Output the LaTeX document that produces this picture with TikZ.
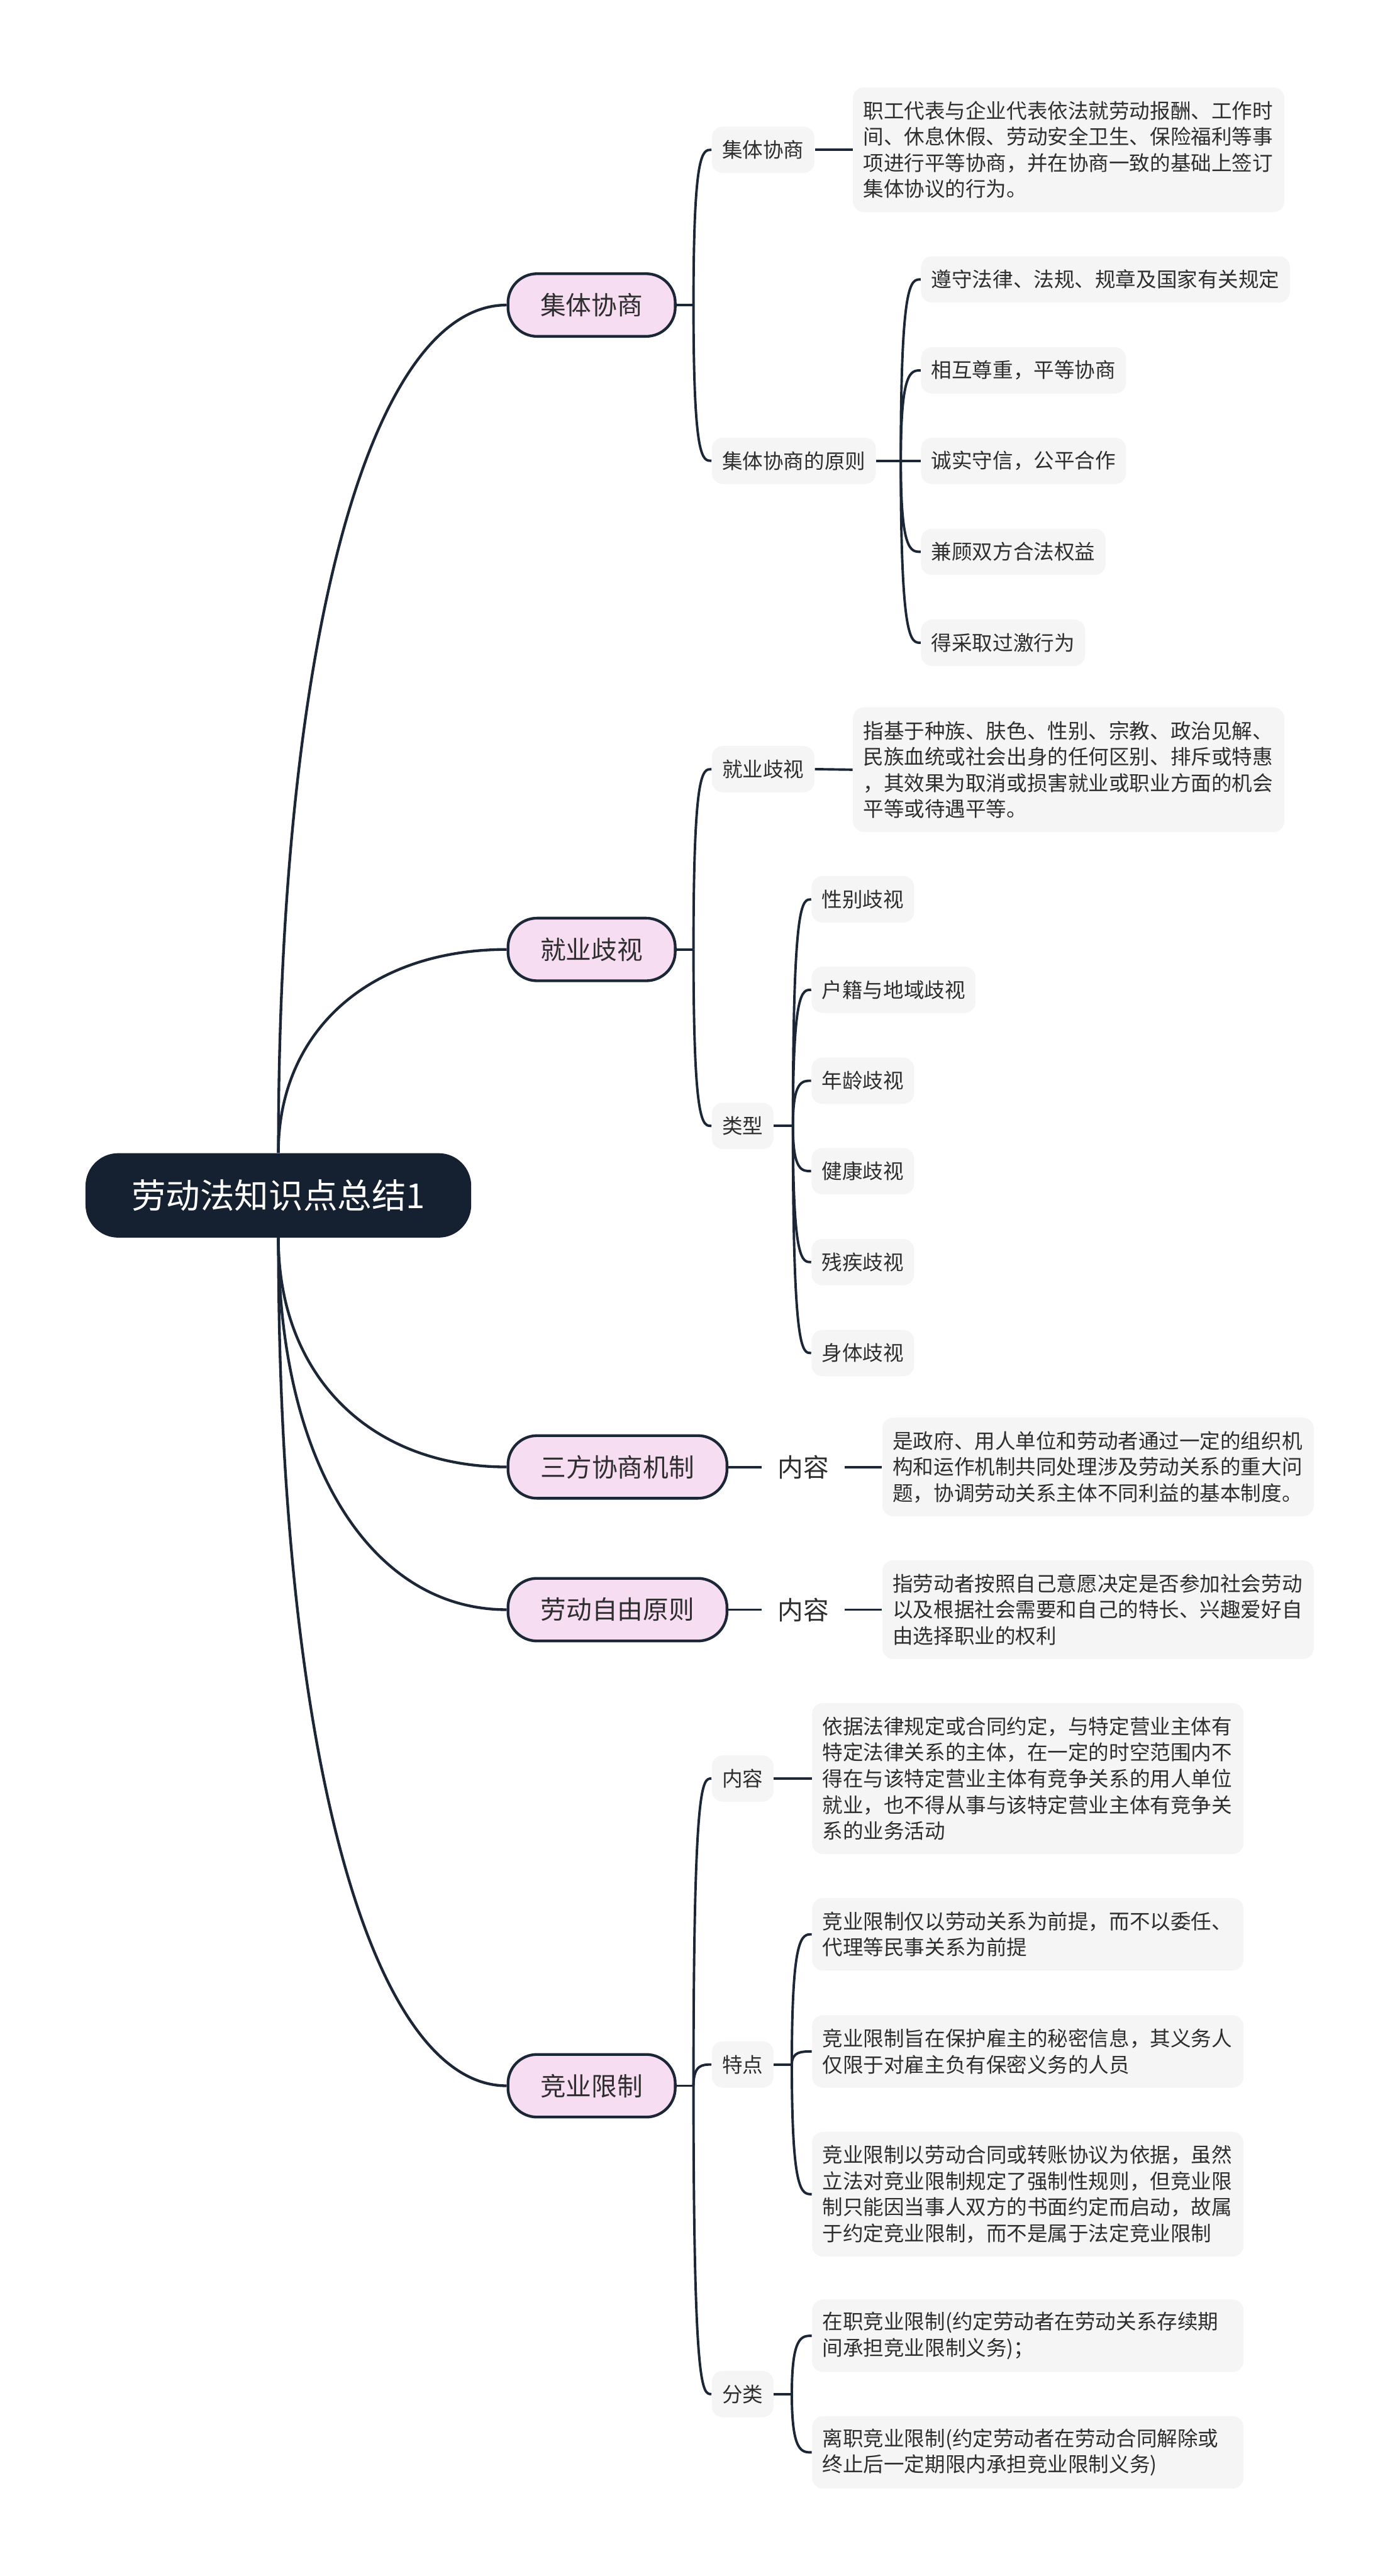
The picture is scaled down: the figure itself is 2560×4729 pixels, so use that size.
\documentclass[tikz,border=0pt]{standalone}
\usepackage{fontspec}
\setmainfont{Noto Sans CJK SC}
\usetikzlibrary{calc}
\definecolor{rootc}{HTML}{152030}
\definecolor{linec}{HTML}{1B2636}
\definecolor{pinkc}{HTML}{F7DDF1}
\definecolor{grayc}{HTML}{F5F5F5}
\definecolor{txtc}{HTML}{2E2E2E}
\newcommand\branchto[2]{%
  \coordinate (bc) at (#1 |- #2.west);
  \draw[conn] (#1) .. controls (bc) and ($(bc)!0.5!(#2.west)$) .. (#2.west);}
\newcommand\rootto[2]{%
  \coordinate (rc) at (#1 |- #2.west);
  \draw[rootconn] (#1) .. controls ($(#1)!0.6!(rc)$) and ($(#2.west)!0.6!(rc)$) .. (#2.west);}
\begin{document}
\begin{tikzpicture}[x=0.3pt,y=-0.3pt,
  rootbox/.style={fill=rootc, text=white, rounded corners=18pt, minimum width=212.4pt, minimum height=46.5pt, font=\fontsize{18.9}{22}\selectfont, inner sep=0pt},
  topicbox/.style={draw=linec, line width=1.5pt, fill=pinkc, text=txtc, rounded corners=16pt, minimum height=34.5pt, font=\fontsize{14.1}{17}\selectfont, inner sep=0pt, anchor=west},
  subbox/.style={fill=grayc, text=txtc, rounded corners=6pt, minimum height=25.5pt, inner xsep=5.7pt, inner ysep=0pt, font=\fontsize{11.28}{14.4}\selectfont, anchor=west},
  para/.style={subbox, text width=226.2pt, align=left},
  lab/.style={text=txtc, font=\fontsize{14.1}{17}\selectfont, inner xsep=8.55pt, inner ysep=0pt},
  conn/.style={draw=linec, line width=1.35pt},
  rootconn/.style={draw=linec, line width=1.5pt},
]
\useasboundingbox (0,0) rectangle (2560,4729);

% root
\node[rootbox] (root) at (511,2194.5) {劳动法知识点总结1};

% level 1
\node[topicbox, minimum width=92.1pt] (k1) at (930,560) {集体协商};
\node[topicbox, minimum width=92.1pt] (k2) at (930,1743) {就业歧视};
\node[topicbox, minimum width=120.6pt] (k3) at (930,2693) {三方协商机制};
\node[topicbox, minimum width=120.6pt] (k4) at (930,2955) {劳动自由原则};
\node[topicbox, minimum width=92.1pt] (k5) at (930,3829) {竞业限制};

% level 2
\node[subbox] (a1) at (1306,275) {集体协商};
\node[subbox] (a2) at (1306,846) {集体协商的原则};
\node[subbox] (b1) at (1306,1412) {就业歧视};
\node[subbox] (b2) at (1306,2067) {类型};
\node[lab] (c1) at (1474.5,2693) {内容};
\node[lab] (d1) at (1474.5,2955) {内容};
\node[subbox] (e1) at (1306,3265) {内容};
\node[subbox] (e2) at (1306,3790) {特点};
\node[subbox] (e3) at (1306,4395) {分类};

% level 3
\node[para, minimum height=68.7pt] (a1t) at (1565,275) {职工代表与企业代表依法就劳动报酬、工作时\\间、休息休假、劳动安全卫生、保险福利等事\\项进行平等协商，并在协商一致的基础上签订\\集体协议的行为。};
\node[subbox] (a2c1) at (1690,513) {遵守法律、法规、规章及国家有关规定};
\node[subbox] (a2c2) at (1690,680) {相互尊重，平等协商};
\node[subbox] (a2c3) at (1690,846) {诚实守信，公平合作};
\node[subbox] (a2c4) at (1690,1013) {兼顾双方合法权益};
\node[subbox] (a2c5) at (1690,1180) {得采取过激行为};

\node[para, minimum height=68.7pt] (b1t) at (1565,1413) {指基于种族、肤色、性别、宗教、政治见解、\\民族血统或社会出身的任何区别、排斥或特惠\\，其效果为取消或损害就业或职业方面的机会\\平等或待遇平等。};
\node[subbox] (b2c1) at (1489,1651) {性别歧视};
\node[subbox] (b2c2) at (1489,1817) {户籍与地域歧视};
\node[subbox] (b2c3) at (1489,1984) {年龄歧视};
\node[subbox] (b2c4) at (1489,2150) {健康歧视};
\node[subbox] (b2c5) at (1489,2317) {残疾歧视};
\node[subbox] (b2c6) at (1489,2484) {身体歧视};

\node[para, minimum height=54.3pt] (c1t) at (1619,2693) {是政府、用人单位和劳动者通过一定的组织机\\构和运作机制共同处理涉及劳动关系的重大问\\题，协调劳动关系主体不同利益的基本制度。};
\node[para, minimum height=54.3pt] (d1t) at (1619,2955) {指劳动者按照自己意愿决定是否参加社会劳动\\以及根据社会需要和自己的特长、兴趣爱好自\\由选择职业的权利};

\node[para, minimum height=83.1pt] (e1t) at (1490,3265) {依据法律规定或合同约定，与特定营业主体有\\特定法律关系的主体，在一定的时空范围内不\\得在与该特定营业主体有竞争关系的用人单位\\就业，也不得从事与该特定营业主体有竞争关\\系的业务活动};
\node[para, minimum height=39.9pt] (e2c1) at (1490,3551) {竞业限制仅以劳动关系为前提，而不以委任、\\代理等民事关系为前提};
\node[para, minimum height=39.9pt] (e2c2) at (1490,3766) {竞业限制旨在保护雇主的秘密信息，其义务人\\仅限于对雇主负有保密义务的人员};
\node[para, minimum height=68.7pt] (e2c3) at (1490,4028) {竞业限制以劳动合同或转账协议为依据，虽然\\立法对竞业限制规定了强制性规则，但竞业限\\制只能因当事人双方的书面约定而启动，故属\\于约定竞业限制，而不是属于法定竞业限制};
\node[para, minimum height=39.9pt] (e3c1) at (1490,4288) {在职竞业限制(约定劳动者在劳动关系存续期\\间承担竞业限制义务)；};
\node[para, minimum height=39.9pt] (e3c2) at (1490,4502) {离职竞业限制(约定劳动者在劳动合同解除或\\终止后一定期限内承担竞业限制义务)};

% root connectors
\rootto{root.north}{k1}
\rootto{root.north}{k2}
\rootto{root.south}{k3}
\rootto{root.south}{k4}
\rootto{root.south}{k5}

% level1 -> level2
\coordinate (k1s) at ($(k1.east)+(31,0)$);
\draw[conn] (k1.east) -- (k1s);
\branchto{k1s}{a1}
\branchto{k1s}{a2}
\coordinate (k2s) at ($(k2.east)+(31,0)$);
\draw[conn] (k2.east) -- (k2s);
\branchto{k2s}{b1}
\branchto{k2s}{b2}
\draw[conn] (k3.east) -- (c1.west);
\draw[conn] (k4.east) -- (d1.west);
\coordinate (k5s) at ($(k5.east)+(31,0)$);
\draw[conn] (k5.east) -- (k5s);
\branchto{k5s}{e1}
\branchto{k5s}{e2}
\branchto{k5s}{e3}

% level2 -> level3
\draw[conn] (a1.east) -- (a1t.west);
\coordinate (a2s) at ($(a2.east)+(45,0)$);
\draw[conn] (a2.east) -- (a2s);
\branchto{a2s}{a2c1}
\branchto{a2s}{a2c2}
\branchto{a2s}{a2c3}
\branchto{a2s}{a2c4}
\branchto{a2s}{a2c5}
\draw[conn] (b1.east) -- (b1t.west);
\coordinate (b2s) at ($(b2.east)+(35,0)$);
\draw[conn] (b2.east) -- (b2s);
\branchto{b2s}{b2c1}
\branchto{b2s}{b2c2}
\branchto{b2s}{b2c3}
\branchto{b2s}{b2c4}
\branchto{b2s}{b2c5}
\branchto{b2s}{b2c6}
\draw[conn] (c1.east) -- (c1t.west);
\draw[conn] (d1.east) -- (d1t.west);
\draw[conn] (e1.east) -- (e1t.west);
\coordinate (e2s) at ($(e2.east)+(33,0)$);
\draw[conn] (e2.east) -- (e2s);
\branchto{e2s}{e2c1}
\branchto{e2s}{e2c2}
\branchto{e2s}{e2c3}
\coordinate (e3s) at ($(e3.east)+(33,0)$);
\draw[conn] (e3.east) -- (e3s);
\branchto{e3s}{e3c1}
\branchto{e3s}{e3c2}
\end{tikzpicture}
\end{document}
